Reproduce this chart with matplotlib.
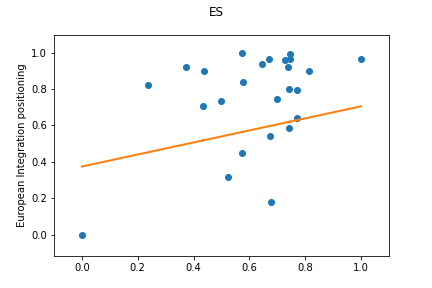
import numpy as np
import matplotlib.pyplot as plt

x = np.array([0.0, 0.237, 0.373, 0.437, 0.434, 0.498, 0.523, 0.574, 0.577, 0.574,
              0.645, 0.670, 0.674, 0.676, 0.699, 0.728, 0.746, 0.746, 0.738, 0.742,
              0.742, 0.771, 0.771, 0.814, 1.0])
y = np.array([0.0, 0.823, 0.923, 0.901, 0.707, 0.735, 0.315, 1.0, 0.840, 0.448,
              0.939, 0.967, 0.541, 0.177, 0.746, 0.961, 0.994, 0.967, 0.923, 0.801,
              0.586, 0.796, 0.643, 0.901, 0.967])

# fitted line
slope = 0.331
intercept = 0.374

fig = plt.figure(figsize=(6, 4), dpi=72)
plt.scatter(x, y)
plt.plot(x, slope * x + intercept, color="tab:orange", linewidth=2)
plt.xlim(-0.1, 1.1)
plt.ylim(-0.12, 1.1)
plt.ylabel("European Integration positioning")
fig.suptitle("ES")
fig.savefig("out.png")
